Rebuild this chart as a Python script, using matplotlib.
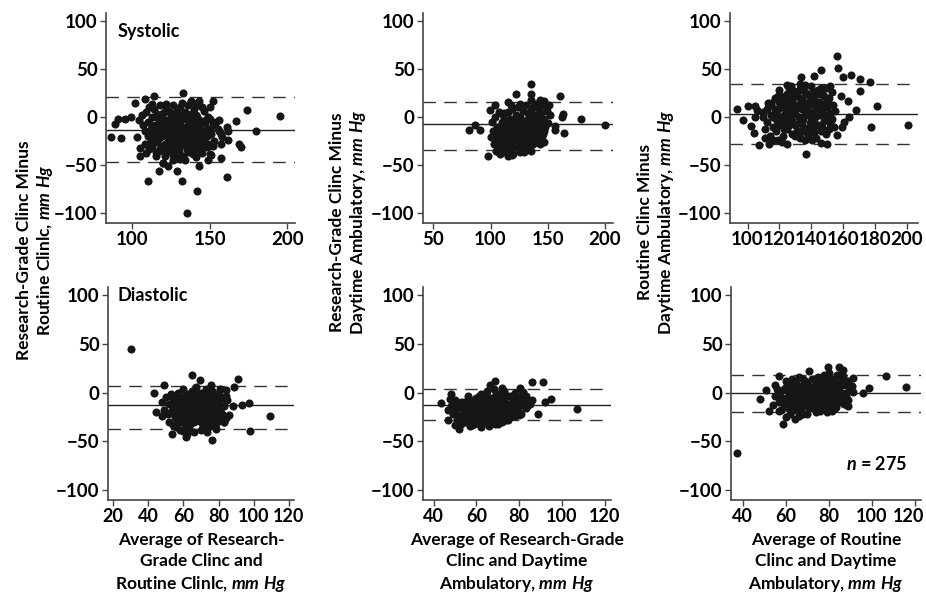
# -*- coding: utf-8 -*-
from matplotlib import pyplot as plt
from matplotlib import transforms

plt.rcParams['font.family'] = ['Lato', 'DejaVu Sans']
plt.rcParams['font.weight'] = 'bold'
plt.rcParams['mathtext.fontset'] = 'custom'
plt.rcParams['mathtext.it'] = 'Lato:italic:bold'
plt.rcParams['mathtext.rm'] = 'Lato:bold'

# ---- data ----
# top row: systolic
sys_rc_avg = [86, 93, 89, 91, 95, 99, 102, 108, 114, 133, 138, 143, 152, 150, 174, 167, 180, 195, 169, 170,
              162, 157, 161, 143, 142, 135, 132, 129, 117, 110, 115, 109, 105, 105, 103, 120, 123, 126, 131, 149,
              151, 148, 157, 158, 156, 162, 161, 149,
              104, 106, 107, 108, 109, 110, 110, 111, 112, 112, 113, 113, 114, 114, 115, 115, 116, 116, 117, 117,
              118, 118, 119, 119, 120, 120, 121, 121, 122, 122, 123, 123, 124, 124, 125, 125, 126, 126, 127, 127,
              128, 128, 129, 129, 130, 130, 131, 131, 132, 132, 133, 133, 134, 134, 135, 135, 136, 136, 137, 137,
              138, 138, 139, 139, 140, 140, 141, 141, 142, 142, 143, 143, 144, 144, 145, 146, 146, 147, 148, 149,
              150, 151, 152, 153, 154, 155, 156, 157, 120, 126, 134, 115, 118, 124, 129, 136, 141, 145, 111, 108,
              113, 122, 132, 139, 145, 147, 150, 152, 127, 131, 135, 125, 140, 117, 120, 128,
              111, 113, 114, 116, 117, 118, 119, 120, 121, 122, 123, 124, 125, 126, 127, 128, 129, 130, 131, 132,
              133, 134, 135, 136, 137, 138, 139, 140, 141, 142, 143, 144, 145, 146, 147, 148, 149, 150, 119, 123,
              127, 133, 137, 141, 115, 121, 129, 135, 143, 131]
sys_rc_diff = [-21, -22, -7, -2, -2, 0, 15, 19, 22, 25, 17, 17, 17, 10, 7, -4, -15, 1, -28, -31,
               -24, -43, -62, -51, -77, -100, -66, -56, -56, -66, -36, -37, -40, -32, -21, -48, -51, -39, -44, -45,
               -39, -31, -28, -21, -14, -15, -10, 0,
               -3, 2, -8, -15, 5, -20, -5, 10, -12, -25, 0, -30, 8, -18, -8, -40, 3, -26, -12, -2,
               -33, 12, -20, -6, 4, -15, -28, -40, -10, 8, -22, -3, -35, -15, 2, -25, -8, 12, -18, -30,
               -4, -42, 6, -13, -22, -35, -8, 10, -28, 0, -16, -40, 5, -24, -10, -33, 12, -18, -4, -28,
               -12, 3, -22, -38, -8, 8, -16, -30, 0, -24, -10, 12, -20, -4, -28, -14, 6, -6, -20, -12,
               -2, -18, -8, -25, -5, -12, -3, -18, -48, -45, -45, -22, -2, 5, -27, -36, -42, -37, -33, -28,
               14, 14, 15, 15, 10, -30, -38, -30, 0, -18, 0, -12, -34, -35, -8, -20,
               -15, -8, -26, -14, -22, -8, -30, -2, -18, -34, -12, -24, -6, -32, -10, -26, -2, -16, -30, -10,
               -2, -18, -26, -8, -20, -32, -2, -18, -8, -30, -20, -12, -4, -24, -14, -2, -28, -14, 2, -30,
               -36, -24, -12, 2, 0, -6, -20, -16, -34, 2]

sys_ra_avg = [81, 86, 91, 98, 100, 104, 99.5, 115, 122, 135, 135, 135, 135, 119, 130, 143, 147, 161, 163, 162.5,
              164, 156, 156, 179, 200, 147, 140, 152, 151, 106, 109,
              101, 102, 103, 104, 105, 105, 106, 107, 107, 108, 109, 110, 110, 111, 112, 112, 113, 114, 114,
              115, 116, 116, 117, 118, 118, 119, 119, 120, 121, 121, 122, 122, 123, 124, 124, 125, 125, 126, 127,
              127, 128, 128, 129, 130, 130, 131, 131, 132, 133, 133, 134, 135, 135, 136, 137, 137, 138, 138, 139,
              140, 140, 141, 142, 142, 143, 144, 144, 145, 146, 146, 147, 148, 149, 150, 112, 115, 120, 126, 108,
              118, 124, 129, 133, 103, 106, 110, 126,
              106, 108, 109, 111, 113, 114, 115, 117, 118, 119, 120, 121, 123, 124, 125, 126, 127, 128, 129, 130,
              131, 132, 133, 134, 135, 136, 137, 138, 139, 140, 141, 142, 143, 144, 145, 146, 147, 122, 116, 110,
              134, 140, 128, 112, 131]
sys_ra_diff = [-13, -8, -13, -40, -21, 12, 7, 15.5, 24, 34, 24, 18, -35, -39, -29, 18, 17, 22, 3, 0,
               -17, -9, -13, -2, -8, -26, -26, 2, 12, -35, -31,
               -5, -15, -28, 0, -20, -35, -10, 5, -25, -15, -32, -5, -20, 2, -28, -12, -36, -8, -22,
               5, -16, -30, -2, -25, -10, 8, -34, -18, -5, -28, 2, -14, -22, 10, -8, -32, -16, 0, -24,
               -10, 6, -30, -14, -4, -20, 12, -26, -8, 4, -18, -12, -28, 6, -2, -16, 10, -22, -6, 2,
               -12, 14, -20, -4, 8, -14, -24, 4, -8, 12, -18, -2, -10, 6, -6, 4, -40, -38, -36, -38,
               12, -2, -36, -32, -22, -30, -30, 14,
               -18, -26, -10, -20, -14, -30, -4, -22, -32, -14, -26, -10, -30, -16, -4, -24, -34, -18, -6, -28,
               -12, -22, -2, -26, -16, -8, -28, -14, -2, -22, -8, -16, -28, -10, -20, -2, -14, -20, -8, -14,
               -4, 0, -12, -22, -34]

sys_rd_avg = [93.7, 97, 100, 102, 104, 104.6, 105, 106, 107, 110, 111, 112, 113.7, 115, 116, 119, 121.5, 124.7, 125, 129,
              133.5, 136.7, 136, 140.5, 142, 146, 146, 150, 152, 153.6, 156, 156, 157, 160, 159.5, 160.5, 158.5, 163, 163.5, 165,
              168, 170.5, 170.5, 177, 177.5, 181, 201,
              110, 111, 112, 113, 114, 115, 116, 117, 118, 118, 119, 120, 120, 121, 122, 122, 123, 124, 124, 125,
              126, 126, 127, 128, 128, 129, 130, 130, 131, 131, 132, 133, 133, 134, 134, 135, 135, 136, 136, 137,
              137, 138, 139, 139, 140, 140, 141, 141, 142, 142, 143, 144, 144, 145, 145, 146, 147, 147, 148, 148,
              149, 150, 150, 151, 152, 152, 153, 154, 155, 120, 125, 130, 136, 141, 146, 115, 119, 127, 133, 138,
              143, 149, 128, 132, 137,
              116, 117, 119, 121, 123, 124, 125, 126, 127, 128, 129, 130, 131, 132, 133, 134, 135, 136, 137, 138,
              139, 140, 141, 142, 143, 144, 145, 146, 147, 148, 149, 150, 151, 152, 153, 121, 126, 132, 138, 144,
              118, 123, 128, 134, 140]
sys_rd_diff = [8.6, -3, 11, -9, -17, 11, 0, 7.6, -29, 0, -22, 8.6, -28, 15, -24, 22, -26, -28, 33, 27,
               42, -38, 33, -24, 43, 49, -27, -28, 32, 13, -19, 63, 51, 42, -10, -5, 22, 17, 0, 44,
               7, 39, 27, 36, -10, 11, -8,
               5, -12, -5, 15, -20, 2, -10, 20, -2, -15, 8, 28, -8, 0, 15, -20, -5, 22, 5, -12,
               30, 10, -3, 18, -18, 3, 25, -8, 12, -14, 0, 20, -22, 8, -4, 28, -10, 15, 2, -16,
               24, 6, -6, 18, 32, 0, 12, -12, 22, -2, 8, -8, 28, 16, 2, -14, 24, 6, -4, 14,
               30, -2, 10, 20, -6, 4, 26, -10, 6, 16, 24, -20, -24, 26, 30, 12, -24, 32, 34, -20,
               -22, -18, 6, 10, 4,
               0, 8, -6, 10, -12, 14, 0, -8, 20, -4, 12, 4, 22, -6, 10, 18, -2, 26, 12, -12,
               2, 20, 4, -16, 16, 2, 24, 8, -10, 22, 2, 18, -12, 12, -2, 22, 18, 28, 24, 12,
               4, 2, 26, -14, -6]

# bottom row: diastolic
dia_rc_avg = [30.3, 43.4, 44.6, 48, 48.8, 53.5, 59.5, 61.7, 65, 69.3, 76, 73.5, 75.8, 78.3, 80.7, 84, 88.8, 91, 88.4, 93.5,
              97.3, 97.7, 109.3, 85.9, 83, 84.4,
              48, 49, 50, 51, 52, 52, 53, 54, 55, 55, 56, 57, 57, 58, 59, 59, 60, 60, 61, 61,
              62, 62, 63, 63, 64, 64, 65, 65, 66, 66, 67, 67, 68, 68, 69, 69, 70, 70, 71, 71,
              72, 72, 73, 73, 74, 74, 75, 76, 76, 77, 77, 78, 79, 79, 80, 81, 82, 83, 84, 85,
              58, 66, 54, 62, 70, 75, 64, 68, 60, 72, 56, 80, 78,
              53, 54, 55, 56, 57, 58, 58, 59, 60, 60, 61, 61, 62, 62, 63, 63, 64, 64, 65, 65,
              66, 66, 67, 67, 68, 68, 69, 69, 70, 70, 71, 71, 72, 72, 73, 73, 74, 74, 75, 75,
              76, 76, 77, 78, 78, 79, 80, 81, 82, 83, 57, 59, 61, 63, 65, 67, 69, 71, 73, 75]
dia_rc_diff = [45, 0, -19.6, -24, 8, -42, -39.5, -45.5, 17.5, 13, -49, -40, 8, -37, 3.5, 2.4, 6, 13.6, -14, -13,
               -10.5, -39, -24, -23, -30, -3.5,
               -10, -18, -5, -22, -12, -30, -2, -16, -25, -8, -35, -12, 0, -20, -28, -6, -15, 4, -32, -10,
               -22, -2, -14, -36, -6, -26, 2, -18, -10, -30, -22, 6, -4, -14, -28, -8, 0, -20, -34, -12,
               -4, -24, 4, -16, -30, -8, -20, -12, 2, -26, -6, -16, -2, -22, -10, -18, -6, -14, -26, -8,
               -38, -40, -33, -42, -38, -34, -10, -20, -22, -14, -18, -28, -34,
               -20, -6, -14, -26, -20, -8, -30, -16, -26, -10, -4, -20, -12, -28, -6, -22, -16, -32, -8, -24,
               -2, -18, -12, -28, -24, -10, -18, -2, -14, -30, -24, -4, -18, -32, -10, -26, -14, -2, -26, -6,
               -22, -32, -16, -10, -24, -30, -16, -4, -22, -30, -28, -22, -14, -28, -12, -18, -24, -20, -6, -16]

dia_ra_avg = [43.6, 46.9, 46.7, 48, 47.6, 50, 51.8, 57.8, 62, 66.3, 68.5, 72, 69.7, 68.6, 80.3, 79.9, 81.9, 85.8, 91.3, 88.9,
              91.9, 94.7, 107, 86, 83.8, 77.5,
              48, 49, 50, 51, 52, 53, 54, 55, 55, 56, 57, 58, 59, 59, 60, 61, 61, 62, 63, 63,
              64, 65, 65, 66, 67, 67, 68, 68, 69, 70, 70, 71, 72, 72, 73, 74, 74, 75, 76, 77,
              77, 78, 79, 80, 80, 81, 82, 83, 84, 85, 57, 62, 66, 53, 64, 69, 60, 71, 76, 58,
              50, 51, 52, 53, 54, 54, 55, 56, 56, 57, 58, 58, 59, 60, 60, 61, 62, 62, 63, 63,
              64, 64, 65, 66, 66, 67, 67, 68, 69, 69, 70, 70, 71, 71, 72, 73, 73, 74, 75, 75,
              76, 76, 77, 78, 78, 79, 80, 81, 82, 83, 56, 59, 61, 63, 65, 68, 70, 72, 74, 66]
dia_ra_diff = [-10.5, -17.5, -28, -1.7, -7, -33, -37, -33, -35, 8, 11.5, 5, -28, -32.5, 4.5, -23, 0.7, 10.5, 10.5, -22,
               -10, -6.3, -17, -8, -14, -16,
               -14, -22, -8, -28, -16, -24, -10, -30, -18, -4, -24, -12, -32, -20, -6, -26, -14, -2, -20, -30,
               -10, -24, 2, -16, -6, -30, -20, 4, -12, -26, -2, -16, -8, -22, 2, -14, -28, -4, -18, -8,
               -24, 0, -14, -6, -20, -12, -2, -16, -8, -12, -34, -34, -34, -32, -18, -8, -16, -30, -12, -26,
               -20, -14, -24, -10, -28, -18, -12, -26, -16, -8, -20, -32, -14, -26, -10, -20, -8, -30, -14, -24,
               -4, -28, -12, -22, -6, -18, -26, -10, -20, -2, -14, -32, -6, -22, -14, -26, -10, -20, -12, -28,
               -4, -22, -16, -10, -24, -4, -14, -22, -10, -4, -22, -26, -4, -6, -18, -28, -8, -30, -4, -12]

dia_rd_avg = [37.5, 48, 50.7, 52.3, 54.2, 55, 57, 57, 58.5, 60, 64.4, 68.2, 70.8, 76, 79.6, 81.4, 85, 86.9, 86.9, 91.5,
              90.8, 91.5, 88.4, 88.1, 96.2, 98.6, 106.7, 116, 83.5,
              55, 56, 57, 58, 59, 60, 60, 61, 62, 63, 63, 64, 65, 65, 66, 67, 67, 68, 69, 69,
              70, 70, 71, 72, 72, 73, 74, 74, 75, 75, 76, 77, 77, 78, 78, 79, 80, 80, 81, 82,
              82, 83, 83, 84, 85, 85, 86, 87, 87, 88, 89, 90, 58, 62, 66, 70, 73, 76, 80, 84,
              64, 68, 72, 79, 71, 66,
              58, 59, 60, 61, 62, 62, 63, 64, 64, 65, 66, 66, 67, 68, 68, 69, 70, 70, 71, 71,
              72, 73, 73, 74, 75, 75, 76, 76, 77, 77, 78, 78, 79, 79, 80, 80, 81, 81, 82, 82,
              83, 84, 84, 85, 86, 86, 87, 88, 88, 89, 60, 63, 67, 72, 74, 77, 81, 83, 86, 89]
dia_rd_diff = [-62, -6.3, 2.4, -19, -13, 7.7, 16.4, -19, -32.5, -25, -26.6, -22, 22.4, -18.5, 26, -18.5, 26, 23.4, 17, 14.7,
               6.6, 0.7, -13, -7, 0, 4.2, 16.4, 5.2, -15,
               -4, 4, -10, 2, -14, 6, -6, -16, 0, -8, 8, -18, -2, 10, -12, 4, -20, -6, 12, -14,
               0, -22, -8, 14, -16, 4, -4, -20, 16, -10, 6, -14, 0, 18, -6, 8, -12, 20, 2, -8,
               14, -16, 6, -2, 18, -10, 8, -4, 12, 0, -8, 4, -18, -22, -24, -12, -4, -18, -2, 10,
               2, 8, -2, -20, 6, 16,
               -6, 4, -12, 2, -10, 8, -2, -12, 10, -6, 4, -16, -2, -12, 14, 2, -8, 10, -16, -2,
               6, -10, 14, 2, -14, 8, -4, 14, -8, 10, -12, 2, -4, 14, 6, -16, -6, 12, 0, -14,
               10, -8, 18, 2, -6, 14, -12, 8, -4, 12, 12, 14, -8, -8, 10, 4, -10, -4, 0, -14]

# mean / limits of agreement
means = [-13, -7.5, 3.5, -13, -13, 0]
upper = [21, 15.5, 34, 7, 4, 18]
lower = [-47, -34, -28, -37, -28, -20]

x_lims = [(83, 205), (41, 207), (89, 207), (17, 123), (35, 123), (34.5, 123)]
x_ticks = [[100, 150, 200], [50, 100, 150, 200], [100, 120, 140, 160, 180, 200],
           [20, 40, 60, 80, 100, 120], [40, 60, 80, 100, 120], [40, 60, 80, 100, 120]]
y_ticks = [-100, -50, 0, 50, 100]
y_tick_labels = ['\u2212100', '\u221250', '0', '50', '100']

y_labels = ["Research-Grade Clinc Minus\nRoutine Clinlc, $\\mathit{mm\\ Hg}$",
            "Research-Grade Clinc Minus\nDaytime Ambulatory, $\\mathit{mm\\ Hg}$",
            "Routine Clinc Minus\nDaytime Ambulatory, $\\mathit{mm\\ Hg}$"]
x_labels = ["Average of Research-\nGrade Clinc and\nRoutine Clinlc, $\\mathit{mm\\ Hg}$",
            "Average of Research-Grade\nClinc and Daytime\nAmbulatory, $\\mathit{mm\\ Hg}$",
            "Average of Routine\nClinc and Daytime\nAmbulatory, $\\mathit{mm\\ Hg}$"]

panels = [(sys_rc_avg, sys_rc_diff), (sys_ra_avg, sys_ra_diff), (sys_rd_avg, sys_rd_diff),
          (dia_rc_avg, dia_rc_diff), (dia_ra_avg, dia_ra_diff), (dia_rd_avg, dia_rd_diff)]

W, H = 926, 601
boxes = [(106, 295, 13, 223), (423, 613, 13, 223), (730, 918, 13, 223),
         (108, 294, 287, 500), (423, 611, 287, 500), (731, 921, 287, 500)]

fig = plt.figure(figsize=(W / 100, H / 100), dpi=100)
spine_col = '#444444'
axes = []
for i, (x0, x1, y0, y1) in enumerate(boxes):
    ax = fig.add_axes([x0 / W, 1 - y1 / H, (x1 - x0) / W, (y1 - y0) / H])
    xs, ys = panels[i]
    ax.scatter(xs, ys, s=34, color='#161616', linewidths=0, zorder=3)
    ax.axhline(means[i], color='#222222', lw=1.0, zorder=2)
    ax.axhline(upper[i], color='#333333', lw=1.0, ls=(0, (9, 6)), zorder=2)
    ax.axhline(lower[i], color='#333333', lw=1.0, ls=(0, (9, 6)), zorder=2)
    ax.set_xlim(*x_lims[i])
    ax.set_ylim(-110, 108)
    ax.set_xticks(x_ticks[i])
    ax.set_yticks(y_ticks)
    ax.set_yticklabels(y_tick_labels)
    for s in ['top', 'right']:
        ax.spines[s].set_visible(False)
    for s in ['left', 'bottom']:
        ax.spines[s].set_color(spine_col)
        ax.spines[s].set_linewidth(1.2)
    ax.tick_params(direction='out', length=4, width=1, color=spine_col, labelsize=13.5, pad=2)
    if i >= 3:
        ax.tick_params(axis='x', labelsize=13)
    axes.append(ax)

# keep the last "120" inside the figure edge
last = axes[5].get_xticklabels()[-1]
last.set_transform(last.get_transform() + transforms.ScaledTranslation(-6 / 100, 0, fig.dpi_scale_trans))

axes[0].text(0.06, 0.91, "Systolic", transform=axes[0].transAxes, fontsize=13, ha='left', va='center')
axes[3].text(0.05, 0.958, "Diastolic", transform=axes[3].transAxes, fontsize=13, ha='left', va='center')
axes[5].text(0.93, 0.17, "$\\mathit{n}$ = 275", transform=axes[5].transAxes, fontsize=13, ha='right', va='center')

# y labels (figure level)
fig.text(36 / W, 1 - 250 / H, y_labels[0], rotation=90, ha='center', va='center', fontsize=12.5, linespacing=1.2)
fig.text(349 / W, 1 - 222 / H, y_labels[1], rotation=90, ha='center', va='center', fontsize=12.5, linespacing=1.2)
fig.text(657 / W, 1 - 222 / H, y_labels[2], rotation=90, ha='center', va='center', fontsize=12.5, linespacing=1.2)

# x labels under bottom row
for i, ax in enumerate(axes[3:]):
    x0, x1 = boxes[3 + i][0], boxes[3 + i][1]
    fig.text((x0 + x1) / 2 / W, 1 - 563 / H, x_labels[i], ha='center', va='center', fontsize=12.5, linespacing=1.35)

plt.savefig("out.png", dpi=100)
